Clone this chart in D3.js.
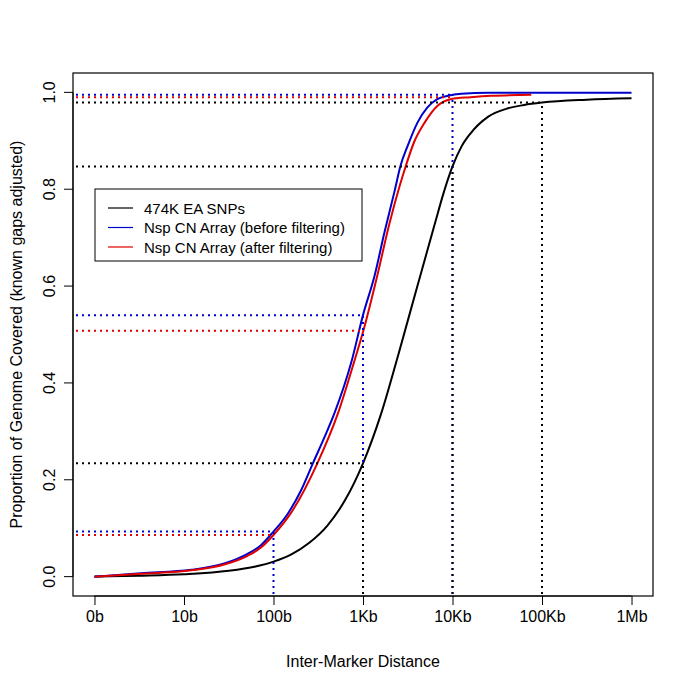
<!DOCTYPE html>
<html>
<head>
<meta charset="utf-8">
<script src="https://cdn.jsdelivr.net/npm/d3@7"></script>
<style>
  body { margin: 0; background: #fff; }
  text { font-family: "Liberation Sans", Arial, sans-serif; fill: #000; }
</style>
</head>
<body>
<div id="chart"></div>
<script>
// x values are log10 of inter-marker distance (bp)
var tickPos = [0, 1, 2, 3, 4, 5, 6];
var tickLabels = ["0b", "10b", "100b", "1Kb", "10Kb", "100Kb", "1Mb"];
var yTicks = [0, 0.2, 0.4, 0.6, 0.8, 1.0];

// 474K EA SNPs
var snpX = [0, 0.5, 1.0, 1.5, 1.8, 2.0, 2.2, 2.4, 2.6, 2.8, 3.0, 3.2, 3.4, 3.6, 3.8, 3.9, 4.0, 4.1, 4.2, 4.4, 4.6, 4.8, 5.0, 5.5, 6.0];
var snpY = [0.0, 0.002, 0.005, 0.012, 0.021, 0.031, 0.046, 0.07, 0.105, 0.158, 0.234, 0.335, 0.462, 0.595, 0.727, 0.792, 0.847, 0.888, 0.915, 0.95, 0.966, 0.974, 0.979, 0.985, 0.988];

// Nsp CN Array (before filtering)
var beforeX = [0, 0.52, 1.08, 1.45, 1.71, 1.86, 2.0, 2.16, 2.31, 2.44, 2.57, 2.68, 2.87, 3.0, 3.13, 3.24, 3.35, 3.42, 3.5, 3.61, 3.72, 3.83, 3.95, 4.1, 4.4, 5.0, 6.0];
var beforeY = [0.0, 0.007, 0.014, 0.027, 0.047, 0.065, 0.093, 0.13, 0.179, 0.234, 0.288, 0.337, 0.443, 0.54, 0.622, 0.711, 0.794, 0.849, 0.89, 0.938, 0.969, 0.986, 0.993, 0.997, 0.999, 0.999, 0.999];

// Nsp CN Array (after filtering)
var afterX = [0, 0.52, 1.08, 1.45, 1.71, 1.86, 2.0, 2.19, 2.49, 2.72, 2.9, 3.01, 3.16, 3.29, 3.41, 3.48, 3.57, 3.69, 3.83, 3.98, 4.2, 4.43, 4.88];
var afterY = [0.0, 0.006, 0.013, 0.025, 0.043, 0.06, 0.086, 0.13, 0.234, 0.337, 0.443, 0.512, 0.622, 0.725, 0.807, 0.849, 0.897, 0.938, 0.972, 0.986, 0.99, 0.993, 0.995];

// dotted guide lines: [log10 distance, proportion]
var snpGuides = [[3, 0.234], [4, 0.847], [5, 0.979]];
var beforeGuides = [[2, 0.093], [3, 0.54], [4, 0.995]];
var afterGuides = [[2, 0.086], [3, 0.508], [4, 0.99]];

var seriesNames = ["474K EA SNPs", "Nsp CN Array (before filtering)", "Nsp CN Array (after filtering)"];
var seriesColors = ["#000000", "#0000cd", "#e00000"];

var svgW = 689, svgH = 688;
var plotL = 73, plotR = 653, plotT = 73, plotB = 596;

var svg = d3.select("#chart")
    .append("svg")
    .attr("width", svgW)
    .attr("height", svgH);

var x = d3.scaleLinear().domain([-0.24, 6.24]).range([plotL, plotR]);
var y = d3.scaleLinear().domain([-0.04, 1.04]).range([plotB, plotT]);

var line = d3.line()
    .x(function (d) { return x(d[0]); })
    .y(function (d) { return y(d[1]); })
    .curve(d3.curveMonotoneX);

// curves
var curves = [
    d3.zip(snpX, snpY),
    d3.zip(beforeX, beforeY),
    d3.zip(afterX, afterY)
];
curves.forEach(function (pts, i) {
    svg.append("path")
        .attr("d", line(pts))
        .attr("fill", "none")
        .attr("stroke", seriesColors[i])
        .attr("stroke-width", 2);
});

// guide lines
function hGuides(guides, color) {
    svg.selectAll(null)
        .data(guides)
        .enter()
        .append("line")
        .attr("x1", plotL + 3)
        .attr("x2", function (d) { return x(d[0]); })
        .attr("y1", function (d) { return y(d[1]); })
        .attr("y2", function (d) { return y(d[1]); })
        .attr("stroke", color)
        .attr("stroke-width", 2)
        .attr("stroke-dasharray", "2,4");
}
function vGuides(guides, color) {
    svg.selectAll(null)
        .data(guides)
        .enter()
        .append("line")
        .attr("x1", function (d) { return x(d[0]); })
        .attr("x2", function (d) { return x(d[0]); })
        .attr("y1", plotB - 2)
        .attr("y2", function (d) { return y(d[1]); })
        .attr("stroke", color)
        .attr("stroke-width", 2)
        .attr("stroke-dasharray", "2,4");
}
hGuides(snpGuides, seriesColors[0]);
hGuides(beforeGuides, seriesColors[1]);
hGuides(afterGuides, seriesColors[2]);
vGuides(beforeGuides, seriesColors[1]);
vGuides(snpGuides, seriesColors[0]);

// box
svg.append("rect")
    .attr("x", plotL)
    .attr("y", plotT)
    .attr("width", plotR - plotL)
    .attr("height", plotB - plotT)
    .attr("fill", "none")
    .attr("stroke", "#000")
    .attr("stroke-width", 1.2);

// X axis
var xAxis = svg.append("g")
    .attr("transform", "translate(0," + plotB + ")")
    .call(d3.axisBottom(x)
        .tickValues(tickPos)
        .tickSize(9)
        .tickPadding(6)
        .tickFormat(function (d, i) { return tickLabels[i]; }));
xAxis.select(".domain")
    .attr("d", "M" + x(0) + ",0H" + x(6));
xAxis.selectAll("text")
    .style("font-size", "16px")
    .attr("fill", "#000");

// Y axis
var yAxis = svg.append("g")
    .attr("transform", "translate(" + plotL + ",0)")
    .call(d3.axisLeft(y)
        .tickValues(yTicks)
        .tickSize(9)
        .tickFormat(d3.format(".1f")));
yAxis.select(".domain")
    .attr("d", "M0," + y(0) + "V" + y(1));
yAxis.selectAll(".tick").attr("transform", null);
yAxis.selectAll(".tick line")
    .attr("y1", function (d) { return y(d); })
    .attr("y2", function (d) { return y(d); });
yAxis.selectAll(".tick text")
    .attr("x", null)
    .attr("dy", null)
    .attr("y", 0)
    .attr("text-anchor", "middle")
    .attr("transform", function (d) { return "translate(-18," + y(d) + ") rotate(-90)"; })
    .style("font-size", "16px");

// axis titles
svg.append("text")
    .attr("x", x(3))
    .attr("y", 667)
    .attr("text-anchor", "middle")
    .style("font-size", "16px")
    .text("Inter-Marker Distance");

svg.append("text")
    .attr("transform", "translate(22," + ((plotT + plotB) / 2) + ") rotate(-90)")
    .attr("text-anchor", "middle")
    .style("font-size", "16px")
    .text("Proportion of Genome Covered (known gaps adjusted)");

// legend
var legend = svg.append("g").attr("transform", "translate(95,189)");
legend.append("rect")
    .attr("width", 267)
    .attr("height", 72)
    .attr("fill", "#fff")
    .attr("stroke", "#000")
    .attr("stroke-width", 1);
legend.selectAll("line")
    .data(seriesNames)
    .enter()
    .append("line")
    .attr("x1", 13)
    .attr("x2", 38)
    .attr("y1", function (d, i) { return 19 + i * 19.5; })
    .attr("y2", function (d, i) { return 19 + i * 19.5; })
    .attr("stroke", function (d, i) { return seriesColors[i]; })
    .attr("stroke-width", 1.2);
legend.selectAll("text")
    .data(seriesNames)
    .enter()
    .append("text")
    .attr("x", 49)
    .attr("y", function (d, i) { return 24.5 + i * 19.5; })
    .style("font-size", "15px")
    .text(function (d) { return d; });
</script>
</body>
</html>
